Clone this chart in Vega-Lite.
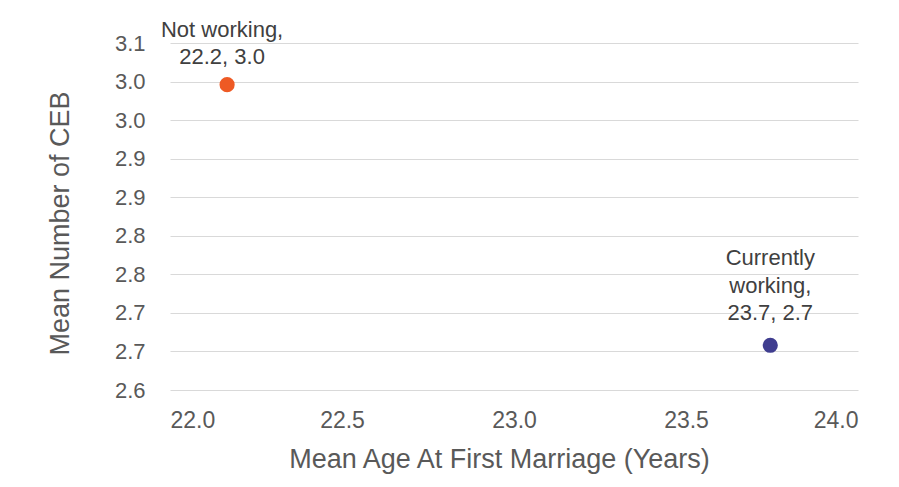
{
  "$schema": "https://vega.github.io/schema/vega-lite/v6.json",
  "width": 688,
  "height": 347,
  "autosize": {"type": "none"},
  "padding": {"left": 170, "top": 43, "right": 41, "bottom": 97},
  "background": "white",
  "config": {
    "font": "Liberation Sans",
    "view": {"stroke": null},
    "text": {"lineBreak": "\n"}
  },
  "data": {
    "values": [
      {"status": "Not working", "age": 22.166, "ceb": 2.996, "label": "Not working,\n22.2, 3.0"},
      {"status": "Currently working", "age": 23.745, "ceb": 2.658, "label": "Currently\nworking,\n23.7, 2.7"}
    ]
  },
  "encoding": {
    "x": {
      "field": "age",
      "type": "quantitative",
      "scale": {"domain": [22, 24], "nice": false, "zero": false},
      "axis": {
        "values": [22, 22.5, 23, 23.5, 24],
        "format": ".1f",
        "title": "Mean Age At First Marriage (Years)",
        "grid": false,
        "domain": false,
        "ticks": false,
        "labelFontSize": 23,
        "labelColor": "#595959",
        "labelPadding": 19,
        "titleFontSize": 27,
        "titleFontWeight": "normal",
        "titleColor": "#595959",
        "titlePadding": 14,
        "titleX": 329
      }
    },
    "y": {
      "field": "ceb",
      "type": "quantitative",
      "scale": {"domain": [2.6, 3.05], "nice": false, "zero": false},
      "axis": {
        "values": [2.6, 2.65, 2.7, 2.75, 2.8, 2.85, 2.9, 2.95, 3.0, 3.05],
        "labelExpr": "format(round(datum.value * 10) / 10, '.1f')",
        "title": "Mean Number of CEB",
        "grid": true,
        "gridColor": "#d9d9d9",
        "gridWidth": 1,
        "domain": false,
        "ticks": false,
        "labelFontSize": 22,
        "labelColor": "#595959",
        "labelPadding": 25,
        "titleFontSize": 27,
        "titleFontWeight": "normal",
        "titleColor": "#595959",
        "titlePadding": 40,
        "titleY": 180
      }
    }
  },
  "layer": [
    {
      "mark": {"type": "point", "filled": true, "size": 230, "opacity": 1},
      "encoding": {
        "color": {
          "field": "status",
          "type": "nominal",
          "scale": {"domain": ["Not working", "Currently working"], "range": ["#EE5A24", "#3F3D8F"]},
          "legend": null
        }
      }
    },
    {
      "transform": [{"filter": "datum.status == 'Not working'"}],
      "mark": {"type": "text", "baseline": "bottom", "align": "center", "fontSize": 22, "lineHeight": 27.5, "color": "#404040", "dx": -5, "dy": -43},
      "encoding": {"text": {"field": "label"}}
    },
    {
      "transform": [{"filter": "datum.status == 'Currently working'"}],
      "mark": {"type": "text", "baseline": "bottom", "align": "center", "fontSize": 22, "lineHeight": 27.5, "color": "#404040", "dx": 0, "dy": -75},
      "encoding": {"text": {"field": "label"}}
    }
  ]
}
